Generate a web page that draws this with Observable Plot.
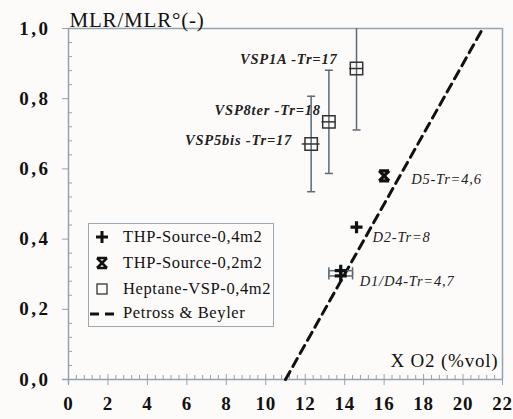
<!DOCTYPE html>
<html>
<head>
<meta charset="utf-8">
<script src="https://cdn.jsdelivr.net/npm/d3@7"></script>
<script src="https://cdn.jsdelivr.net/npm/@observablehq/plot@0.6"></script>
<style>
  body { margin: 0; background: #fdfbfa; }
  #chart { position: relative; width: 513px; height: 419px; font-family: 'Liberation Serif'; }
  #chart svg text { font-family: 'Liberation Serif'; }
  .legend {
    position: absolute; left: 88px; top: 223px; width: 186px; height: 104px;
    box-sizing: border-box; border: 1.5px solid #9ca8b2; background: #fdfbfa;
    font-size: 16.5px; font-family: 'Liberation Serif';
    letter-spacing: 0.6px; color: #111;
  }
  .legend .row { position: absolute; left: 0; height: 20px; display: flex; align-items: center; }
  .legend svg { width: 34px; height: 20px; flex: none; }
</style>
</head>
<body>
<div id="chart"></div>
<script>
// Heptane pool fires in the VSP enclosure (open squares, with error bars)
const vspNames = ["VSP1A -Tr=17", "VSP8ter -Tr=18", "VSP5bis -Tr=17"];
const vspX = [14.6, 13.2, 12.3];
const vspY = [0.886, 0.734, 0.671];
const vspYErr = [0.175, 0.147, 0.136];
const vspXErr = [0.35, 0.35, 0.45];

// THP source, 0.4 m2 pan (plus markers)
const thp04Names = ["D2", "D1", "D4"];
const thp04X = [14.6, 13.8, 13.8];
const thp04Y = [0.434, 0.31, 0.295];
const thp04XErr = [0, 0.6, 0.6];

// THP source, 0.2 m2 pan
const thp02Names = ["D5"];
const thp02X = [16.0];
const thp02Y = [0.58];

// Point labels
const d5Label = "D5-Tr=4,6";
const d2Label = "D2-Tr=8";
const d14Label = "D1/D4-Tr=4,7";

// Petross & Beyler correlation, end points
const petrossX = [11, 21];
const petrossY = [0, 1];

// Axis ticks and titles
const xTicks = [0, 2, 4, 6, 8, 10, 12, 14, 16, 18, 20, 22];
const yTicks = [0, 0.2, 0.4, 0.6, 0.8, 1.0];
const yTitle = "MLR/MLR°(-)";
const xTitle = "X O2 (%vol)";
const legendLabels = ["THP-Source-0,4m2", "THP-Source-0,2m2", "Heptane-VSP-0,4m2", "Petross & Beyler"];

const axisColor = "#95a3ae";
const barColor = "#5d6973";
const serif = "Liberation Serif";

const xMinor = d3.range(0, 22.001, 0.4).filter(v => Math.abs(v / 2 - Math.round(v / 2)) > 1e-6);
const yMinor = d3.range(0, 1.0001, 0.04).filter(v => Math.abs(v / 0.2 - Math.round(v / 0.2)) > 1e-6);

const vsp = vspNames.map((name, i) => ({name, x: vspX[i], y: vspY[i], ey: vspYErr[i], ex: vspXErr[i]}));
const thp04 = thp04Names.map((name, i) => ({name, x: thp04X[i], y: thp04Y[i], ex: thp04XErr[i]}));
const thp02 = thp02Names.map((name, i) => ({name, x: thp02X[i], y: thp02Y[i]}));
const petross = petrossX.map((x, i) => ({x, y: petrossY[i]}));
const xErrPts = thp04.filter(d => d.ex > 0);

// custom symbols
const radius = size => Math.sqrt(size / Math.PI);
const plusSym = {draw(c, size) { const r = radius(size); c.moveTo(-r, 0); c.lineTo(r, 0); c.moveTo(0, -r); c.lineTo(0, r); }};
const hourglassSym = {draw(c, size) { const r = radius(size);
  c.moveTo(-r, -r); c.lineTo(r, r); c.moveTo(r, -r); c.lineTo(-r, r);
  c.moveTo(-r, -r); c.lineTo(r, -r); c.moveTo(-r, r); c.lineTo(r, r); }};
const hCap = {draw(c, size) { const r = radius(size); c.moveTo(-r, 0); c.lineTo(r, 0); }};
const vCap = {draw(c, size) { const r = radius(size); c.moveTo(0, -r); c.lineTo(0, r); }};

const fmt = d => d.toFixed(1).replace(".", ",");

const chart = Plot.plot({
  width: 513,
  height: 419,
  marginLeft: 68,
  marginRight: 11,
  marginTop: 28,
  marginBottom: 40,
  x: {domain: [0, 22], label: null},
  y: {domain: [0, 1], label: null},
  style: {background: "transparent", fontFamily: serif, color: "black", overflow: "visible"},
  marks: [
    // frame: top and right edges
    Plot.ruleY([1], {x1: 0, x2: 22, stroke: axisColor, strokeWidth: 1.5}),
    Plot.ruleX([22], {y1: 0, y2: 1, stroke: axisColor, strokeWidth: 1.5}),
    // axis lines
    Plot.ruleX([0], {y1: -0.015, y2: 1, stroke: axisColor, strokeWidth: 1.5}),
    Plot.ruleY([0], {x1: -0.3, x2: 22, stroke: axisColor, strokeWidth: 1.5}),
    // y axis
    Plot.axisY(yTicks, {label: null, tickSize: 6, tickPadding: 12, tickFormat: fmt, stroke: axisColor, fill: "#111",
      fontSize: 19, fontWeight: "bold"}),
    Plot.axisY(yMinor, {label: null, tickSize: -4, text: null, stroke: axisColor}),
    // x axis
    Plot.axisX(xTicks, {label: null, tickSize: 6, tickPadding: 11, tickFormat: d => String(d), stroke: axisColor, fill: "#111",
      fontSize: 19, fontWeight: "bold"}),
    Plot.axisX(xTicks, {label: null, tickSize: -5, text: null, stroke: axisColor}),
    Plot.axisX(xMinor, {label: null, tickSize: -4, text: null, stroke: axisColor}),
    // axis titles
    Plot.text([yTitle], {frameAnchor: "top-left", textAnchor: "start", lineAnchor: "bottom", dy: -2, dx: 1,
      fontSize: 21, fill: "#111"}),
    Plot.text([xTitle], {frameAnchor: "bottom-right", textAnchor: "end", lineAnchor: "bottom", dy: -13, dx: -4,
      fontSize: 19, fill: "#111"}),
    // Petross & Beyler
    Plot.line(petross, {x: "x", y: "y", stroke: "#111", strokeWidth: 3, strokeDasharray: "9,6"}),
    // VSP error bars
    Plot.ruleX(vsp, {x: "x", y1: d => d.y - d.ey, y2: d => d.y + d.ey, stroke: barColor, strokeWidth: 1.5, clip: true}),
    Plot.dot(vsp.filter(d => d.y + d.ey <= 1), {x: "x", y: d => d.y + d.ey, symbol: hCap, r: 4, stroke: barColor, strokeWidth: 1.5}),
    Plot.dot(vsp, {x: "x", y: d => d.y - d.ey, symbol: hCap, r: 4, stroke: barColor, strokeWidth: 1.5}),
    Plot.ruleY(vsp, {y: "y", x1: d => d.x - d.ex, x2: d => d.x + d.ex, stroke: "#333", strokeWidth: 1.5}),
    Plot.dot(vsp, {x: "x", y: "y", symbol: "square", r: 7, stroke: "#333", strokeWidth: 1.5, fill: "none"}),
    // THP horizontal error bars
    Plot.ruleY(xErrPts, {y: "y", x1: d => d.x - d.ex, x2: d => d.x + d.ex, stroke: barColor, strokeWidth: 1.5}),
    Plot.dot(xErrPts, {x: d => d.x - d.ex, y: "y", symbol: vCap, r: 3.5, stroke: barColor, strokeWidth: 1.5}),
    Plot.dot(xErrPts, {x: d => d.x + d.ex, y: "y", symbol: vCap, r: 3.5, stroke: barColor, strokeWidth: 1.5}),
    // THP markers
    Plot.dot(thp04, {x: "x", y: "y", symbol: plusSym, r: 6, stroke: "#111", strokeWidth: 3.2}),
    Plot.dot(thp02, {x: "x", y: "y", symbol: hourglassSym, r: 5, stroke: "#111", strokeWidth: 3.2}),
    // labels
    Plot.text(vsp.slice(0, 1), {x: "x", y: "y", text: "name", textAnchor: "end", dx: -19, dy: -9,
      fontStyle: "italic", fontWeight: "bold", fontSize: 14.5, fill: "#222"}),
    Plot.text(vsp.slice(1, 2), {x: "x", y: "y", text: "name", textAnchor: "end", dx: -8, dy: -12,
      fontStyle: "italic", fontWeight: "bold", fontSize: 14.5, fill: "#222"}),
    Plot.text(vsp.slice(2, 3), {x: "x", y: "y", text: "name", textAnchor: "end", dx: -19, dy: -4,
      fontStyle: "italic", fontWeight: "bold", fontSize: 14.5, fill: "#222"}),
    Plot.text(thp02, {x: "x", y: "y", text: () => d5Label, textAnchor: "start", dx: 27, dy: 3,
      fontStyle: "italic", fontSize: 14.5, fill: "#222"}),
    Plot.text(thp04.slice(0, 1), {x: "x", y: "y", text: () => d2Label, textAnchor: "start", dx: 16, dy: 10,
      fontStyle: "italic", fontSize: 14.5, fill: "#222"}),
    Plot.text(thp04.slice(1, 2), {x: "x", y: "y", text: () => d14Label, textAnchor: "start", dx: 19, dy: 11,
      fontStyle: "italic", fontSize: 14.5, fill: "#222"})
  ]
});

const host = document.getElementById("chart");
host.appendChild(chart);

// widen the tick labels and titles a little
d3.select(chart).selectAll("text").style("font-family", "'Liberation Serif'").style("letter-spacing", "0.8px");
d3.select(chart).selectAll('[aria-label="y-axis tick label"] text').style("letter-spacing", "2.5px");

// legend box
const legend = document.createElement("div");
legend.className = "legend";
const markers = [
  '<path d="M13,4 V16 M7,10 H19" stroke="#111" stroke-width="3"/>',
  '<path d="M8,5 L18,15 M18,5 L8,15 M8,5 H18 M8,15 H18" stroke="#111" stroke-width="2.6"/>',
  '<rect x="8" y="5" width="10" height="10" fill="none" stroke="#333" stroke-width="1.3"/>',
  '<path d="M1,11 H10 M16,11 H25" stroke="#111" stroke-width="3"/>'
];
const rowTops = [3, 29, 55, 79];
legendLabels.forEach((label, i) => {
  const row = document.createElement("div");
  row.className = "row";
  row.style.top = rowTops[i] + "px";
  row.innerHTML = `<svg viewBox="0 0 34 20">${markers[i]}</svg><span>${label.replace("&", "&amp;")}</span>`;
  legend.appendChild(row);
});
host.appendChild(legend);
</script>
</body>
</html>
